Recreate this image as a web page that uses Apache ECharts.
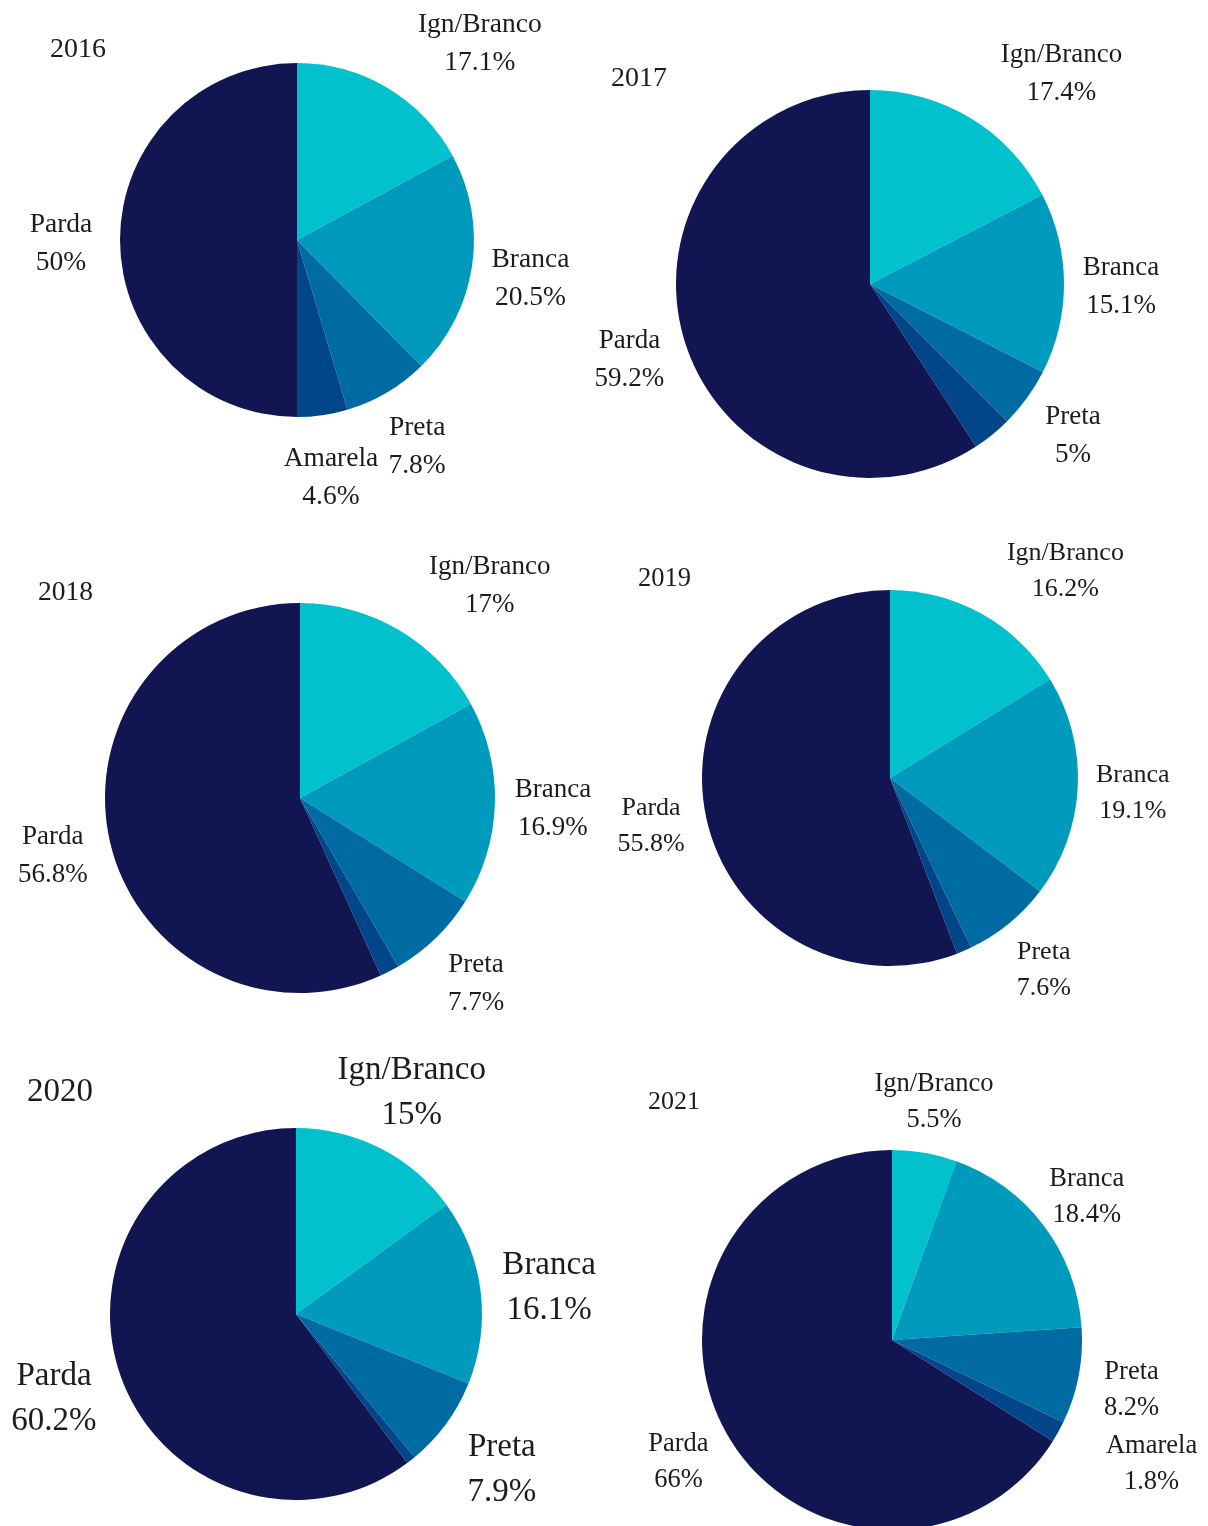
<!DOCTYPE html>
<html>
<head>
<meta charset="utf-8">
<script src="https://cdn.jsdelivr.net/npm/echarts@6/dist/echarts.min.js"></script>
<style>
  html, body { margin: 0; padding: 0; background: #ffffff; }
  #chart { width: 1208px; height: 1526px; }
</style>
</head>
<body>
<div id="chart"></div>
<script>
// ---- data ----
const years = ['2016', '2017', '2018', '2019', '2020', '2021'];
const categories = ['Ign/Branco', 'Branca', 'Preta', 'Amarela', 'Parda'];
const values2016 = [17.1, 20.5, 7.8, 4.6, 50];
const values2017 = [17.4, 15.1, 5, 3.3, 59.2];
const values2018 = [17, 16.9, 7.7, 1.6, 56.8];
const values2019 = [16.2, 19.1, 7.6, 1.3, 55.8];
const values2020 = [15, 16.1, 7.9, 0.8, 60.2];
const values2021 = [5.5, 18.4, 8.2, 1.8, 66];
// which categories carry a printed label in each year
const labelled2016 = [true, true, true, true, true];
const labelled2017 = [true, true, true, false, true];
const labelled2018 = [true, true, true, false, true];
const labelled2019 = [true, true, true, false, true];
const labelled2020 = [true, true, true, false, true];
const labelled2021 = [true, true, true, true, true];

const valuesByYear = [values2016, values2017, values2018, values2019, values2020, values2021];
const labelledByYear = [labelled2016, labelled2017, labelled2018, labelled2019, labelled2020, labelled2021];

// ---- styles / layout ----
const colors = ['#00C1CC', '#009ABD', '#006AA3', '#02468A', '#111653'];
const textColor = '#1c1c1c';
const fontFamily = '"Liberation Serif", "Times New Roman", serif';
const layout = [
  { cx: 297, cy: 240, r: 177, ld: 233, font: 27.5, lh: 38, tx: 50, ty: 50, tf: 28, nudge: { 0: [62, 2] } },
  { cx: 870, cy: 284, r: 194, ld: 248, font: 27, lh: 38, tx: 611, ty: 79, tf: 28, nudge: { 0: [61, 0.5] } },
  { cx: 300, cy: 798, r: 195, ld: 250, font: 27, lh: 38, tx: 38, ty: 593, tf: 27.5, nudge: { 0: [61, 2] } },
  { cx: 890, cy: 778, r: 188, ld: 240, font: 26, lh: 36, tx: 638, ty: 579, tf: 26.5, nudge: { 0: [57, 1.5] } },
  { cx: 296, cy: 1314, r: 186, ld: 252, font: 33, lh: 45, tx: 27, ty: 1092, tf: 33, nudge: { 0: [0, 1] } },
  { cx: 892, cy: 1340, r: 190, ld: 241, font: 26.5, lh: 36, tx: 648, ty: 1102, tf: 26, nudge: { 0: [0, -2], 3: [46, 2] } }
];

const titles = [];
const series = [];
years.forEach(function (year, i) {
  const L = layout[i];
  const vals = valuesByYear[i];
  const shown = labelledByYear[i];
  const baseDy = L.font * 0.15;
  titles.push({
    text: year,
    left: L.tx,
    top: L.ty - L.tf / 2,
    padding: 0,
    textStyle: { fontFamily: fontFamily, fontSize: L.tf, fontWeight: 'normal', color: textColor, lineHeight: L.tf }
  });
  // slices
  series.push({
    type: 'pie',
    center: [L.cx, L.cy],
    radius: L.r,
    startAngle: 90,
    clockwise: true,
    silent: true,
    animation: false,
    label: { show: false },
    labelLine: { show: false },
    emphasis: { disabled: true },
    itemStyle: { borderWidth: 0 },
    data: categories.map(function (c, k) {
      return { name: c, value: vals[k], itemStyle: { color: colors[k] } };
    })
  });
  // transparent ring that carries the labels at the slice mid-angles
  series.push({
    type: 'pie',
    center: [L.cx, L.cy],
    radius: [L.ld - 1, L.ld + 1],
    startAngle: 90,
    clockwise: true,
    silent: true,
    animation: false,
    avoidLabelOverlap: false,
    emphasis: { disabled: true },
    labelLine: { show: false },
    itemStyle: { color: 'rgba(0,0,0,0)', borderWidth: 0 },
    label: {
      show: true,
      position: 'inside',
      formatter: '{b}\n{c}%',
      fontFamily: fontFamily,
      fontSize: L.font,
      lineHeight: L.lh,
      color: textColor,
      align: 'center'
    },
    labelLayout: function (p) {
      const n = L.nudge[p.dataIndex] || [0, 0];
      return { dx: n[0], dy: n[1] + baseDy };
    },
    data: categories.map(function (c, k) {
      return { name: c, value: vals[k], label: { show: shown[k] } };
    })
  });
});

const chart = echarts.init(document.getElementById('chart'));
chart.setOption({
  backgroundColor: '#ffffff',
  animation: false,
  title: titles,
  series: series
});
</script>
</body>
</html>
